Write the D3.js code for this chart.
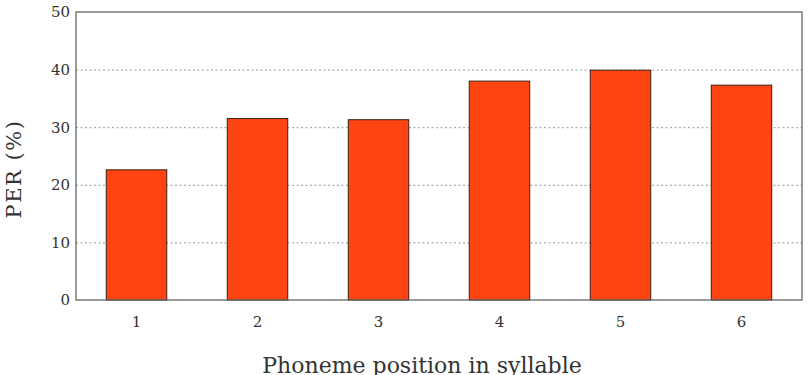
<!DOCTYPE html>
<html>
  <head>
    <meta charset="utf-8">
    <title></title>
    <style>
      body, html{
        margin: 0;
        background: #fff;
      }
      text{
        font-family: "DejaVu Serif", serif;
        fill: #333;
      }
      .grid line{
        stroke: #999;
        stroke-dasharray: 2,2.5;
      }
    </style>
    <script src="https://cdn.jsdelivr.net/npm/d3@7"></script>
  </head>
  <body>
    <svg id="chart" width="810" height="375"></svg>
    <script>

var positions = [1, 2, 3, 4, 5, 6]
var per = [22.6, 31.5, 31.3, 38.0, 39.9, 37.3]
var yTicks = [0, 10, 20, 30, 40, 50]

var svg = d3.select('#chart')
var mLeft = 76, mRight = 802, mTop = 12, mBottom = 300

var x = d3.scaleBand().domain(positions).range([mLeft, mRight]).paddingInner(0.5).paddingOuter(0.25)
var y = d3.scaleLinear().domain([0, 50]).range([mBottom, mTop])

// dotted grid
svg.append('g').attr('class', 'grid')
  .selectAll('line').data(yTicks.slice(1, -1)).enter().append('line')
  .attr('x1', mLeft).attr('x2', mRight)
  .attr('y1', function(d){ return y(d) + 0.5 })
  .attr('y2', function(d){ return y(d) + 0.5 })

svg.append('g').selectAll('rect').data(per).enter().append('rect')
  .attr('x', function(d, i){ return x(positions[i]) })
  .attr('y', function(d){ return y(d) })
  .attr('width', x.bandwidth())
  .attr('height', function(d){ return mBottom - y(d) })
  .attr('fill', '#fe4511')
  .attr('stroke', '#3a1f14')
  .attr('stroke-width', 1)

// frame
svg.append('rect')
  .attr('x', mLeft).attr('y', mTop)
  .attr('width', mRight - mLeft).attr('height', mBottom - mTop)
  .attr('fill', 'none').attr('stroke', '#666').attr('stroke-width', 1.3)

var yAxis = svg.append('g').attr('transform', 'translate(' + mLeft + ',0)')
  .call(d3.axisLeft(y).tickValues(yTicks).tickSize(0).tickPadding(6))
yAxis.select('.domain').remove()
yAxis.selectAll('text').style('font-size', '15px').style('font-family', '"DejaVu Serif", serif').attr('fill', '#333')

var xAxis = svg.append('g').attr('transform', 'translate(0,' + mBottom + ')')
  .call(d3.axisBottom(x).tickSize(0).tickPadding(16))
xAxis.select('.domain').remove()
xAxis.selectAll('text').style('font-size', '15px').style('font-family', '"DejaVu Serif", serif').attr('fill', '#333')

svg.append('text')
  .attr('x', 422).attr('y', 373)
  .attr('text-anchor', 'middle')
  .style('font-size', '22px')
  .text('Phoneme position in syllable')

svg.append('text')
  .attr('transform', 'translate(21,169) rotate(-90)')
  .attr('text-anchor', 'middle')
  .style('font-size', '21px')
  .style('letter-spacing', '1.5px')
  .text('PER (%)')
    </script>
  </body>
</html>
